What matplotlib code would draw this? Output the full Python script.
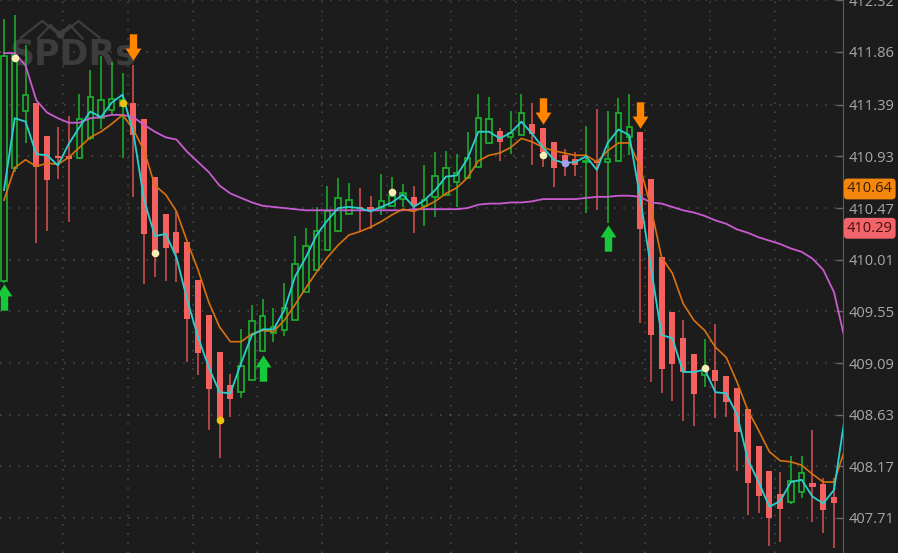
import numpy as np
import matplotlib.pyplot as plt
from matplotlib.path import Path

# 78 intraday bars (SPY)
opens = [409.82, 410.83, 411.33, 411.41, 411.11, 410.93, 410.93, 410.92, 411.09, 411.27,
         411.34, 411.38, 411.41, 411.26, 410.75, 410.42, 410.26, 410.17, 409.83, 409.52,
         409.19, 408.89, 408.83, 408.94, 409.20, 409.36, 409.38, 409.47, 409.72, 409.92,
         410.10, 410.27, 410.42, 410.48, 410.48, 410.47, 410.49, 410.55, 410.57, 410.49,
         410.57, 410.59, 410.70, 410.74, 410.84, 411.05, 411.16, 411.10, 411.12, 411.22,
         411.18, 411.06, 410.94, 410.91, 410.88, 410.89, 410.88, 410.89, 411.10, 411.15,
         410.73, 410.03, 409.54, 409.31, 409.17, 408.98, 409.03, 408.97, 408.87, 408.68,
         408.35, 408.13, 407.92, 407.85, 407.94, 408.02, 408.01, 407.90]
highs = [412.15, 412.19, 411.92, 411.41, 411.11, 411.19, 411.29, 411.49, 411.70, 411.82,
         411.77, 411.67, 411.74, 411.26, 410.75, 410.42, 410.44, 410.17, 409.83, 409.52,
         409.19, 408.99, 409.39, 409.61, 409.66, 409.58, 409.80, 410.22, 410.29, 410.48,
         410.67, 410.74, 410.69, 410.65, 410.58, 410.77, 410.75, 410.68, 410.67, 410.85,
         410.97, 410.98, 410.95, 411.15, 411.49, 411.46, 411.18, 411.33, 411.49, 411.41,
         411.18, 411.06, 411.00, 410.97, 411.20, 411.35, 411.33, 411.45, 411.49, 411.15,
         410.73, 410.03, 409.54, 409.47, 409.17, 409.30, 409.44, 408.97, 408.87, 408.68,
         408.35, 408.13, 408.12, 408.26, 408.26, 408.49, 408.07, 408.07]
lows = [409.80, 410.79, 411.05, 410.16, 410.27, 410.73, 410.35, 410.91, 411.08, 411.17,
        411.30, 410.92, 410.57, 409.79, 409.86, 409.82, 409.81, 409.10, 408.98, 408.49,
        408.24, 408.61, 408.78, 408.94, 409.20, 409.28, 409.33, 409.47, 409.72, 409.92,
        410.10, 410.27, 410.42, 410.27, 410.28, 410.41, 410.49, 410.48, 410.25, 410.31,
        410.39, 410.59, 410.48, 410.74, 410.84, 411.05, 410.89, 410.95, 411.12, 410.85,
        410.84, 410.66, 410.76, 410.76, 410.43, 410.45, 410.34, 410.89, 410.94, 409.45,
        408.92, 408.82, 408.75, 408.57, 408.53, 408.88, 408.60, 408.61, 408.13, 407.74,
        407.75, 407.46, 407.50, 407.83, 407.89, 407.67, 407.58, 407.44]
closes = [411.82, 411.83, 411.48, 410.84, 410.72, 410.92, 410.91, 411.26, 411.46, 411.43,
          411.44, 411.43, 411.12, 410.24, 410.08, 410.11, 410.07, 409.48, 409.18, 408.86,
          408.58, 408.77, 409.06, 409.46, 409.51, 409.41, 409.58, 409.97, 410.13, 410.27,
          410.44, 410.56, 410.54, 410.46, 410.44, 410.53, 410.58, 410.60, 410.50, 410.54,
          410.76, 410.83, 410.78, 410.92, 411.27, 411.26, 411.06, 411.14, 411.32, 411.13,
          410.97, 410.83, 410.86, 410.85, 410.89, 410.87, 410.91, 411.32, 411.19, 410.28,
          409.34, 409.04, 409.08, 409.01, 408.81, 409.03, 408.93, 408.74, 408.48, 408.02,
          407.91, 407.71, 407.79, 408.04, 408.11, 407.99, 407.78, 407.84]

# moving averages (one extra point past the last visible bar)
fast_ma = [410.63, 411.27, 411.24, 410.95, 410.94, 410.85, 411.04, 411.19, 411.33, 411.28,
           411.41, 411.48, 411.14, 410.54, 410.22, 410.24, 410.03, 409.65, 409.32, 409.05,
           408.83, 408.82, 409.09, 409.34, 409.39, 409.39, 409.56, 409.86, 410.03, 410.23,
           410.36, 410.47, 410.48, 410.47, 410.44, 410.48, 410.52, 410.59, 410.48, 410.54,
           410.63, 410.75, 410.76, 410.91, 411.15, 411.15, 411.09, 411.14, 411.24, 411.13,
           411.01, 410.90, 410.87, 410.88, 410.93, 410.81, 411.05, 411.17, 411.12, 410.57,
           409.95, 409.34, 409.31, 409.01, 409.01, 409.03, 408.83, 408.82, 408.63, 408.23,
           408.03, 407.81, 407.86, 408.03, 408.05, 407.90, 407.84, 407.96, 408.61]
slow_ma = [410.54, 410.83, 410.90, 410.84, 410.87, 410.86, 410.92, 411.01, 411.10, 411.15,
           411.22, 411.30, 411.17, 410.98, 410.67, 410.59, 410.44, 410.17, 409.92, 409.63,
           409.41, 409.28, 409.28, 409.35, 409.38, 409.37, 409.47, 409.61, 409.76, 409.90,
           410.03, 410.14, 410.23, 410.26, 410.30, 410.35, 410.41, 410.46, 410.44, 410.48,
           410.53, 410.60, 410.65, 410.74, 410.89, 410.94, 410.96, 411.01, 411.09, 411.06,
           411.01, 410.98, 410.96, 410.94, 410.94, 410.88, 410.98, 411.05, 411.05, 410.84,
           410.48, 410.03, 409.89, 409.62, 409.47, 409.38, 409.23, 409.14, 408.92, 408.67,
           408.49, 408.30, 408.22, 408.21, 408.18, 408.10, 408.03, 408.03, 408.32]
long_ma = [411.85, 411.85, 411.74, 411.43, 411.32, 411.27, 411.23, 411.23, 411.27, 411.28,
           411.30, 411.30, 411.28, 411.21, 411.15, 411.10, 411.08, 410.97, 410.88, 410.79,
           410.67, 410.60, 410.56, 410.52, 410.49, 410.48, 410.47, 410.46, 410.45, 410.45,
           410.45, 410.45, 410.45, 410.45, 410.45, 410.45, 410.45, 410.45, 410.46, 410.46,
           410.46, 410.46, 410.46, 410.47, 410.50, 410.51, 410.51, 410.52, 410.52, 410.53,
           410.55, 410.55, 410.55, 410.55, 410.56, 410.57, 410.57, 410.58, 410.58, 410.57,
           410.52, 410.51, 410.48, 410.45, 410.43, 410.40, 410.36, 410.33, 410.28, 410.25,
           410.21, 410.18, 410.15, 410.11, 410.08, 410.02, 409.92, 409.72, 409.30]

price_ticks = [407.71, 408.17, 408.63, 409.09, 409.55, 410.01, 410.47, 410.93, 411.39, 411.86, 412.32]

buy_idx = [0, 24, 56]
buy_px = [409.68, 409.05, 410.20]
sell_idx = [12, 50, 59]
sell_px = [411.90, 411.33, 411.30]

cream_idx = [1, 14, 36, 50, 65]
cream_px = [411.81, 410.07, 410.61, 410.94, 409.05]
gold_idx = [11, 20]
gold_px = [411.41, 408.58]
violet_idx = [52]
violet_px = [410.87]

last_price = 410.64
bid_price = 410.29

bg = '#1c1c1c'
up_col = '#1db32f'
dn_col = '#f6605f'
dn_wick = '#d9524f'

fig = plt.figure(figsize=(8.98, 5.53), dpi=100, facecolor=bg)
ax = fig.add_axes([0, 0, 843 / 898, 1])
ax.set_facecolor(bg)

x = np.arange(len(opens))
o = np.array(opens); c = np.array(closes)
h = np.array(highs); l = np.array(lows)
up = c >= o

# grid
for p in price_ticks:
    ax.axhline(p, color='#4d4d4d', lw=1.1, ls=(0, (1, 5)), zorder=0)
for gx in np.arange(5.5, 77, 6):
    ax.axvline(gx, color='#4d4d4d', lw=1.1, ls=(0, (1, 5)), zorder=0)

# watermark (spider logo + text)
legs = [[(0.025, 0.932), (0.05, 0.962), (0.068, 0.94)],
        [(0.045, 0.93), (0.06, 0.955), (0.07, 0.94)],
        [(0.118, 0.932), (0.093, 0.962), (0.075, 0.94)],
        [(0.098, 0.93), (0.083, 0.955), (0.073, 0.94)]]
for leg in legs:
    lx, ly = zip(*leg)
    ax.plot(lx, ly, transform=ax.transAxes, color='#3e3e3e', lw=1.6, zorder=1)
ax.plot([0.0715], [0.939], 'o', ms=5, color='#3e3e3e', transform=ax.transAxes, zorder=1)
ax.text(0.011, 0.883, 'SPDRs', transform=ax.transAxes, fontsize=25, fontweight='bold',
        color='#3c3c3c', va='baseline', family='DejaVu Sans', zorder=1)

# wicks
ax.vlines(x[up], l[up], h[up], color=up_col, lw=1.1, zorder=2)
ax.vlines(x[~up], l[~up], h[~up], color=dn_wick, lw=1.1, zorder=2)

# bodies
bh = np.maximum(np.abs(c - o), 0.012)
bottom = np.minimum(o, c)
ax.bar(x[~up], bh[~up], bottom=bottom[~up], width=0.56, color=dn_col, zorder=3)
ax.bar(x[up], bh[up], bottom=bottom[up], width=0.5, facecolor=bg, edgecolor=up_col,
       linewidth=1.2, zorder=3)

# moving averages
xm = np.arange(len(fast_ma))
ax.plot(xm, long_ma, color='#c95bd1', lw=1.3, zorder=4)
ax.plot(xm, slow_ma, color='#d9720f', lw=1.2, zorder=4)
ax.plot(xm, fast_ma, color='#2ccfcf', lw=1.3, zorder=5)

# signal arrows
up_arrow = Path([(-0.14, -0.5), (0.14, -0.5), (0.14, 0.04), (0.3, 0.04), (0, 0.5),
                 (-0.3, 0.04), (-0.14, 0.04), (-0.14, -0.5)])
dn_arrow = Path([(vx, -vy) for vx, vy in up_arrow.vertices])
ax.plot(buy_idx, buy_px, ls='none', marker=up_arrow, ms=19, color='#17c93a', mec='none', zorder=6)
ax.plot(sell_idx, sell_px, ls='none', marker=dn_arrow, ms=19, color='#ff8400', mec='none', zorder=6)

# dots
ax.plot(cream_idx, cream_px, 'o', ms=5.5, color='#f7efb3', mec='none', zorder=6)
ax.plot(gold_idx, gold_px, 'o', ms=5.5, color='#eec10e', mec='none', zorder=6)
ax.plot(violet_idx, violet_px, 'o', ms=5.5, color='#a3a0f2', mec='none', zorder=6)

ax.set_xlim(-0.37, 77.83)
ax.set_ylim(407.398, 412.323)

ax.yaxis.tick_right()
ax.set_yticks(price_ticks)
ax.set_yticklabels(['%.2f' % p for p in price_ticks])
ax.tick_params(axis='y', direction='in', length=5, width=1, color='#6a6a6a', pad=4,
               labelsize=10.5, labelcolor='#a8a8a8')
for lab in ax.get_yticklabels():
    lab.set_family('Open Sans')
ax.set_xticks([])
for side in ['top', 'left', 'bottom']:
    ax.spines[side].set_visible(False)
ax.spines['right'].set_color('#5c5c5c')

# price tags
ax.text(1.0045, last_price, '%.2f' % last_price, transform=ax.get_yaxis_transform(),
        va='center', ha='left', fontsize=10.5, family='Open Sans', color='#3a1c00',
        bbox=dict(boxstyle='round,pad=0.2,rounding_size=0.25', fc='#f2870c', ec='none'))
ax.text(1.0045, bid_price, '%.2f' % bid_price, transform=ax.get_yaxis_transform(),
        va='center', ha='left', fontsize=10.5, family='Open Sans', color='#4a0c0c',
        bbox=dict(boxstyle='round,pad=0.2,rounding_size=0.25', fc='#f0646a', ec='none'))

fig.savefig('out.png', dpi=100, facecolor=bg)
